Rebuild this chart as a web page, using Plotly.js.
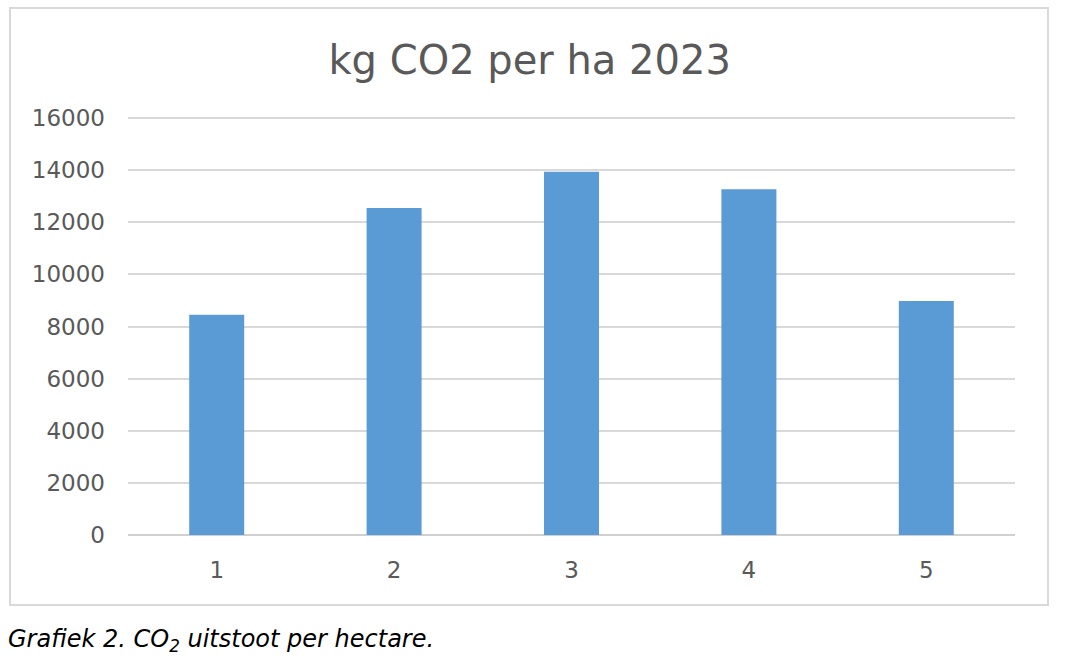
<!DOCTYPE html>
<html>
<head>
<meta charset="utf-8">
<script src="https://cdn.plot.ly/plotly-3.0.1.min.js"></script>
<style>
html,body{margin:0;padding:0;background:#fff;}
#chart{width:1070px;height:665px;}
</style>
</head>
<body>
<div id="chart"></div>
<script>
const categories = ['1', '2', '3', '4', '5'];
const values = [8450, 12550, 13940, 13270, 8980];
const yTicks = [0, 2000, 4000, 6000, 8000, 10000, 12000, 14000, 16000];
const chartTitle = 'kg CO2 per ha 2023';
const caption = '<i>Grafiek 2. CO<sub>2</sub> uitstoot per hectare.</i>';

const plotL = 128, plotR = 1015, plotT = 117, plotB = 535;
const W = 1070, H = 665;
const pw = plotR - plotL, ph = plotB - plotT;
const px = x => (x - plotL) / pw;
const py = y => (plotB - y) / ph;

const fontFam = '"DejaVu Sans", "Noto Sans", sans-serif';

const trace = {
  type: 'bar',
  x: categories,
  y: values,
  marker: {color: '#5b9bd5'},
  width: 0.31,
  hoverinfo: 'x+y'
};

const layout = {
  width: W, height: H,
  margin: {l: plotL, r: W - plotR, t: plotT, b: H - plotB},
  paper_bgcolor: '#ffffff',
  plot_bgcolor: '#ffffff',
  showlegend: false,
  font: {family: fontFam, color: '#595959'},
  title: {
    text: chartTitle,
    font: {family: fontFam, size: 40, color: '#595959'},
    x: 0.495, xref: 'container', xanchor: 'center',
    y: 1 - 60 / H, yref: 'container', yanchor: 'middle'
  },
  xaxis: {
    type: 'category',
    showgrid: false,
    showline: false,
    zeroline: false,
    ticks: '',
    tickfont: {family: fontFam, size: 23, color: '#595959'},
    ticklabelstandoff: 19
  },
  yaxis: {
    range: [0, 16040],
    tickvals: yTicks,
    ticktext: yTicks.map(String),
    showgrid: true,
    gridcolor: '#d9d9d9',
    gridwidth: 2,
    zeroline: true,
    zerolinecolor: '#d0d0d0',
    zerolinewidth: 2,
    showline: false,
    ticks: '',
    tickfont: {family: fontFam, size: 23, color: '#595959'},
    ticklabelstandoff: 22
  },
  shapes: [{
    type: 'rect', xref: 'paper', yref: 'paper',
    x0: px(10), x1: px(1048), y0: py(605), y1: py(8),
    line: {color: '#d9d9d9', width: 2},
    fillcolor: 'rgba(0,0,0,0)',
    layer: 'below'
  }],
  annotations: [{
    text: caption,
    xref: 'paper', yref: 'paper',
    x: px(6), y: py(640),
    xanchor: 'left', yanchor: 'middle',
    showarrow: false,
    font: {family: fontFam, size: 24, color: '#000000'}
  }]
};

Plotly.newPlot('chart', [trace], layout, {displayModeBar: false, staticPlot: true});
</script>
</body>
</html>
